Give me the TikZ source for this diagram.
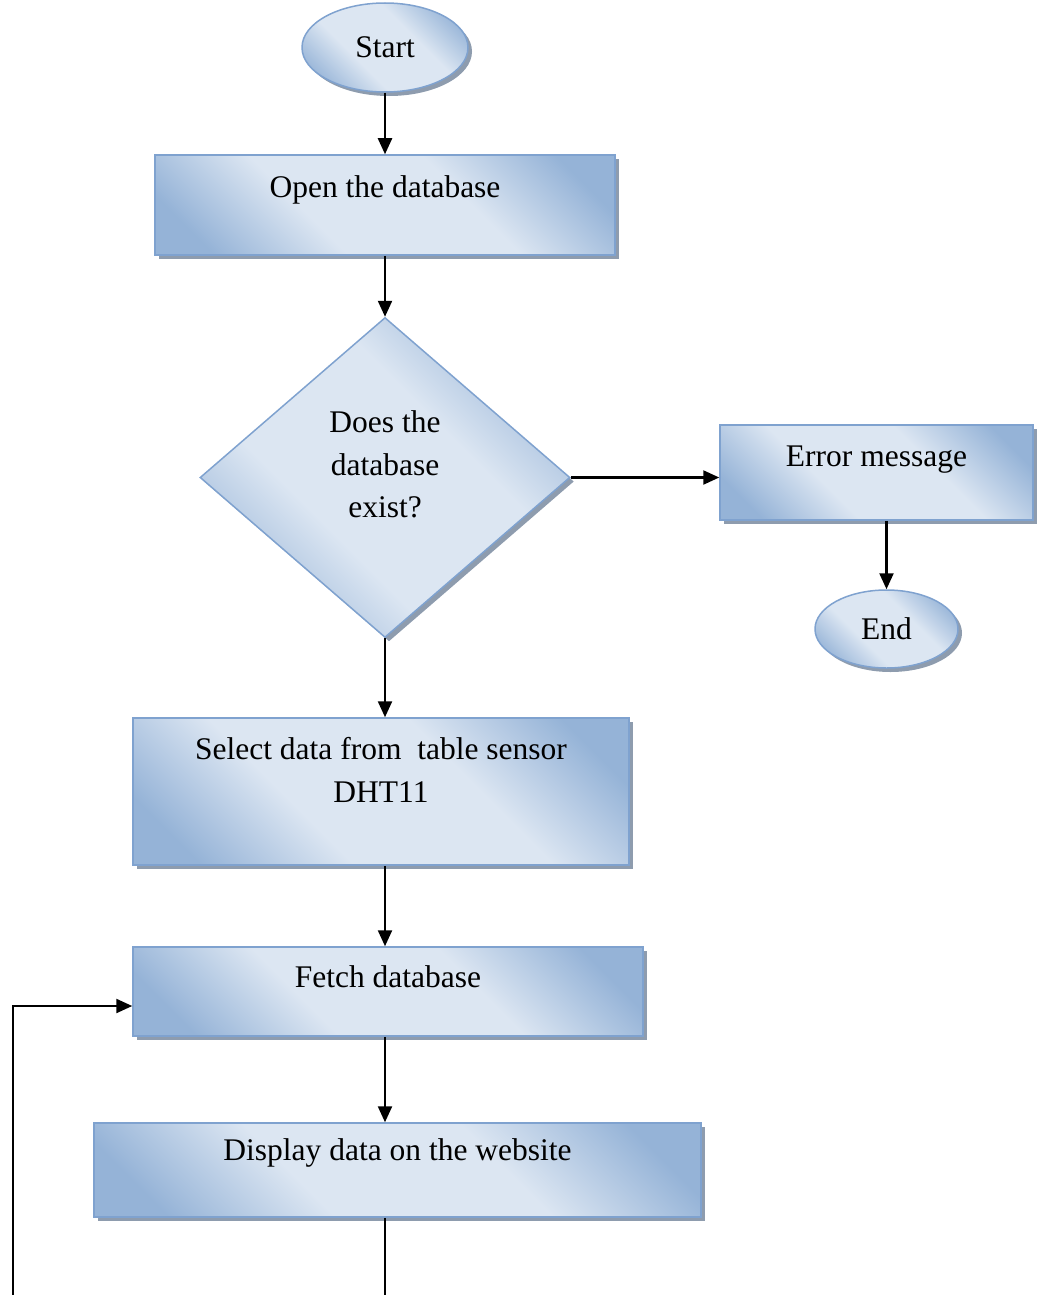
\documentclass[tikz,border=0pt]{standalone}
\usepackage{fontspec}
\setmainfont{Liberation Serif}
\usetikzlibrary{shapes.geometric,arrows.meta,shadows,calc}

\definecolor{fillDark}{HTML}{95B3D7}
\definecolor{fillLight}{HTML}{DCE6F2}
\definecolor{edgeBlue}{HTML}{7FA2CF}
\definecolor{shadowGrey}{HTML}{8E9CAE}

% dark - light - dark band, rotated diagonally on each shape
\pgfdeclareverticalshading{ribbon}{100bp}{%
  color(0bp)=(fillDark); color(22bp)=(fillDark);
  color(39bp)=(fillLight); color(61bp)=(fillLight);
  color(78bp)=(fillDark); color(100bp)=(fillDark)}

\begin{document}
\begin{tikzpicture}[x=1pt,y=-1pt,
  blueshape/.style={draw=edgeBlue, line width=1.5pt,
    shading=ribbon, shading angle=-45, inner sep=0pt,
    drop shadow={shadow xshift=4pt, shadow yshift=-4pt, fill=shadowGrey, opacity=1}},
  procbox/.style={blueshape, rectangle},
  term/.style={blueshape, ellipse},
  decision/.style={blueshape, diamond},
  txt/.style={font=\fontsize{31.5}{42.5}\selectfont, align=center, inner sep=0pt},
  arr/.style={line width=2.3pt, -{Triangle[length=16pt,width=14pt]}},
  flow/.style={line width=2.3pt}
]
\useasboundingbox (0,0) rectangle (1045,1295);

% shapes
\node[term, minimum width=166, minimum height=89] (start) at (385,47.5) {};
\node[procbox, minimum width=460, minimum height=100] (open) at (385,205) {};
\node[decision, minimum width=370, minimum height=320] (dec) at (385,477.5) {};
\node[procbox, minimum width=313, minimum height=95] (err) at (876.5,472.5) {};
\node[term, minimum width=143, minimum height=78] (end) at (886.5,629) {};
\node[procbox, minimum width=496, minimum height=147] (sel) at (381,791.5) {};
\node[procbox, minimum width=510, minimum height=89] (fetch) at (388,991.5) {};
\node[procbox, minimum width=607, minimum height=94] (disp) at (397.5,1170) {};

% texts
\node[txt] (start-t) at (start) {Start};
\node[txt, anchor=base] (open-t) at ($(open.north)+(0,43)$) {Open the database};
\node[txt] (dec-t) at ($(dec.center)+(0,-13)$) {Does the\\database\\exist?};
\node[txt, anchor=base] (err-t) at ($(err.north)+(0,42)$) {Error message};
\node[txt] (end-t) at (end) {End};
\node[txt] (sel-t) at ($(sel.north)+(0,52.5)$) {Select data from\ \ table sensor\\DHT11};
\node[txt, anchor=base] (fetch-t) at ($(fetch.north)+(0,41)$) {Fetch database};
\node[txt, anchor=base] (disp-t) at ($(disp.north)+(0,38)$) {Display data on the website};

% connectors
\coordinate (bottom) at (0,1295);
\coordinate (loopbot) at (13,1295);
\coordinate (looptop) at (13,1006);

\draw[arr] (start) -- (start |- open.north);
\draw[arr] (open.south -| start) -- (dec.north);
\draw[arr] (dec.east) -- (dec.east -| err.west);
\draw[arr] (err.south -| end) -- (end.north);
\draw[arr] (dec.south) -- (dec.south |- sel.north);
\draw[arr] (sel.south -| dec) -- (fetch.north -| dec);
\draw[arr] (fetch.south -| dec) -- (disp.north -| dec);
\draw[flow] (disp.south -| dec) -- (dec |- bottom);
\draw[arr] (loopbot) -- (looptop) -- (looptop -| fetch.west);
\end{tikzpicture}
\end{document}
